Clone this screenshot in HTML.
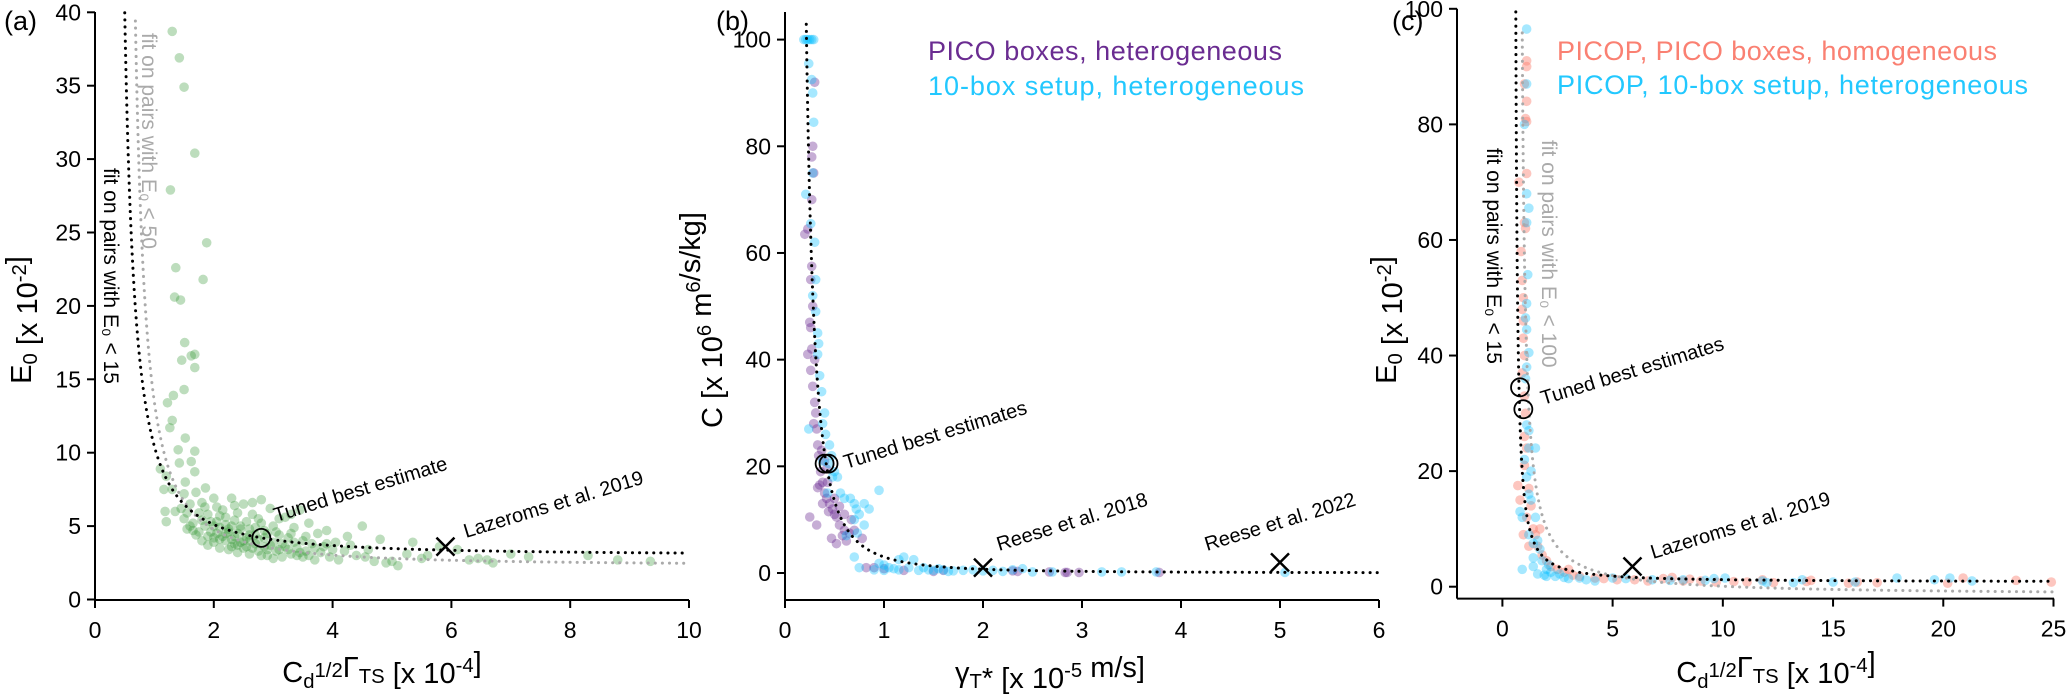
<!DOCTYPE html>
<html><head><meta charset="utf-8">
<style>
html,body{margin:0;padding:0;background:#fff;}
svg{display:block;font-family:"Liberation Sans",sans-serif;}
</style></head>
<body>
<svg id="fig" width="2067" height="694" viewBox="0 0 2067 694" xmlns="http://www.w3.org/2000/svg"></svg>
<script>
// ---------- Panel (a) data ----------
const aTicksX=[0,2,4,6,8,10];
const aTicksY=[0,5,10,15,20,25,30,35,40];
const aGreen=[[1.3,38.7],[1.42,36.9],[1.5,34.9],[1.68,30.4],[1.88,24.3],[1.27,27.9],[1.36,22.6],[1.82,21.8],[1.34,20.6],[1.44,20.4],[1.51,17.5],[1.62,16.6],[1.68,16.7],[1.46,16.3],[1.68,15.8],[1.5,14.3],[1.22,13.4],[1.32,13.9],[1.26,11.7],[1.3,12.2],[1.52,11.0],[1.68,10.1],[1.4,10.2],[1.42,9.3],[1.62,9.4],[1.1,8.9],[1.2,8.4],[1.68,8.7],[1.52,8.0],[1.3,7.5],[1.16,7.5],[1.86,7.6],[1.18,6.0],[1.2,5.3],[1.35,6.0],
[1.45,6.2],[1.5,5.5],[1.55,4.8],[1.6,6.5],[1.65,5.2],[1.7,4.4],[1.7,7.3],[1.75,5.9],[1.8,4.0],[1.8,6.6],[1.85,5.0],[1.9,3.7],[1.9,5.8],[1.95,4.6],[2.0,6.9],[2.0,4.2],[2.05,5.3],[2.1,3.5],[2.1,4.9],[2.15,6.1],[2.2,4.0],[2.2,5.6],[2.25,3.4],[2.25,4.6],[2.3,6.9],[2.3,5.0],[2.35,3.8],[2.35,4.3],[2.4,5.9],[2.4,3.2],[2.45,4.8],[2.5,4.0],[2.5,6.5],[2.55,3.6],[2.55,5.3],[2.6,4.4],[2.6,3.1],[2.65,5.8],[2.7,3.8],[2.7,4.9],[2.75,3.3],[2.8,6.8],[2.8,5.2],[2.85,3.6],[2.9,4.5],[2.9,3.0],[2.95,6.2],[3.0,3.9],[3.0,5.0],[3.05,3.3],[3.1,4.4],[3.15,2.9],[3.2,5.6],[3.2,3.6],[3.25,4.2],[3.3,3.1],[3.35,4.9],[3.4,3.5],[3.45,6.1],[3.5,2.9],[3.5,4.0],[3.55,3.3],[3.6,5.2],[3.65,3.8],[3.7,2.7],[3.75,4.5],[3.8,3.2],[3.85,3.6],[3.9,4.7],[3.95,2.9],[4.0,3.4],[4.05,3.9],[2.15,4.3],[2.35,5.4],[2.6,4.8],[2.45,3.9],[2.75,4.1],[2.05,4.5],[1.95,5.3],[2.85,4.7],[3.1,3.4],[2.3,3.6],[2.65,3.5],[1.6,5.0],[1.75,4.6],[2.0,3.9],[3.3,4.5],[3.4,3.0],[2.9,3.4],[2.55,4.2],[2.4,4.5],[2.2,5.1],[3.0,2.8],[3.6,3.0],[2.8,3.0],[2.1,5.7],[1.85,6.3],[1.5,7.2],[2.75,5.5],
[1.9,4.3],[2.0,5.0],[2.2,4.5],[2.3,4.1],[2.45,5.0],[2.5,3.5],[2.6,4.0],[2.7,4.4],[2.85,4.2],[2.95,3.7],[3.05,4.6],[3.15,3.8],[3.25,3.4],[3.35,3.9],[3.45,3.2],[3.55,4.3],[3.7,3.5],[3.9,3.8],[2.1,4.1],[2.25,4.8],[2.4,3.7],[1.8,5.4],[1.65,4.7],[1.55,5.9],[2.05,6.3],[2.35,6.4],[3.1,5.5],[3.3,5.8],[2.65,6.6],
[4.5,5.0],[4.8,4.1],[5.1,2.3],[5.35,3.9],[5.6,3.0],[5.8,3.6],[6.1,3.4],[6.3,2.7],[6.6,2.7],[6.7,2.5],[7.0,3.1],[7.3,2.9],[8.3,3.0],[8.8,2.7],[9.35,2.6],[6.45,2.8],[5.5,2.8],[5.0,2.6],[4.9,2.5],[4.7,2.6],[4.4,3.0],[4.2,3.3],[4.1,2.7],[4.3,3.7],[4.6,3.4],[4.25,4.3],[4.55,2.9],[5.25,3.1]];
const aBest=[[2.8,4.2]];
const aRef=[[5.9,3.6]];
// fit parameters: y = c + k/(x-x0)^p
const aFitBlack={c:3.0,k:4.92,x0:0.24,p:1.5,xmin:0.5};
const aFitGray={c:2.3,k:4.92,x0:0.42,p:1.5,xmin:0.68};

// ---------- Panel (b) data ----------
const bTicksX=[0,1,2,3,4,5,6];
const bTicksY=[0,20,40,60,80,100];
const bPurple=[[0.2,63.5],[0.23,64.5],[0.27,57.5],[0.26,55],[0.28,50],[0.25,47],[0.23,41],[0.27,42],[0.26,38],[0.3,40],[0.28,35],[0.3,32],[0.29,28],[0.32,27],[0.33,24],[0.34,22],[0.36,19],[0.38,17],[0.35,16.5],[0.33,16],[0.4,15],[0.42,14],[0.45,13],[0.48,12],[0.5,11],[0.52,10.5],[0.44,11.5],[0.55,9],[0.6,8],[0.58,7],[0.65,7.5],[0.7,8],[0.62,6],[0.52,5.5],[0.47,6.5],[0.25,10.5],[0.32,9],[0.78,6.5],[0.3,92],[0.28,80],[0.27,78],[0.29,75],[0.27,70],[0.82,1],[0.9,1],[1.0,0.8],[1.2,0.5],[1.5,0.3],[1.6,0.5],[2.3,0.4],[2.35,0.3],[2.67,0.2],[2.83,0.1],[2.85,0.1],[2.97,0.1],[3.78,0.1],[0.4,21],[0.42,19.5],[0.37,23],[0.31,30],[0.26,46],[0.55,12.5],[0.6,11],[0.67,10],[0.43,17],[0.38,13],[0.5,14]];
const bCyan=[[0.19,100],[0.21,100],[0.23,100],[0.25,100],[0.27,100],[0.29,100],[0.24,95.5],[0.27,92.5],[0.28,90],[0.29,84.5],[0.28,75],[0.21,71],[0.26,65.5],[0.3,62],[0.31,55],[0.28,52],[0.31,49],[0.33,45],[0.34,43],[0.33,41],[0.35,37],[0.37,34],[0.4,30],[0.38,28],[0.41,26],[0.24,27],[0.45,24],[0.47,22],[0.44,20.5],[0.5,19],[0.53,18],[0.56,15],[0.6,14],[0.66,14],[0.7,13],[0.72,12],[0.75,11],[0.8,13],[0.85,12],[0.95,15.5],[0.8,9],[0.7,10],[0.73,7.5],[0.62,7],[0.48,18],[0.43,15],[0.38,21],[0.7,3],[0.95,1.8],[1.0,0.5],[1.05,1],[1.1,0.8],[1.15,2.5],[1.2,3],[1.25,1],[1.3,2.5],[1.35,0.5],[1.45,0.6],[1.5,0.5],[1.6,0.6],[1.7,0.4],[1.8,0.5],[1.9,0.6],[2.0,0.4],[2.1,0.5],[2.2,0.3],[2.4,0.8],[2.5,0.2],[2.7,0.2],[3.2,0.2],[3.4,0.2],[3.75,0.2],[5.05,0.1],[0.75,1],[0.9,0.6],[1.0,1.5],[1.15,0.6],[1.4,1.0],[1.55,0.8],[1.65,0.3],[2.3,0.6]];
const bBest=[[0.4,20.5],[0.44,20.5]];
const bRef=[[2.0,1.0],[5.0,2.0]];
const bFitBlack={c:0,k:2.7,x0:0.053,p:2,xmin:0.215};

// ---------- Panel (c) data ----------
const cTicksX=[0,5,10,15,20,25];
const cTicksY=[0,20,40,60,80,100];
const cCoral=[[1.1,91],[1.1,90],[1.0,87],[1.1,84],[1.05,81],[1.1,80.5],[1.1,71.5],[0.75,70],[1.0,63],[1.05,62],[0.85,58],[0.9,53],[0.95,50],[0.9,48],[0.95,46],[0.95,43],[1.0,40],[0.9,37],[1.0,33],[1.05,30],[1.0,26],[1.1,24],[1.0,21],[0.7,17.5],[0.8,15],[1.2,17],[1.3,14],[1.1,12],[1.4,10],[1.5,9],[0.95,9],[1.6,7],[1.8,5.5],[2.0,4.5],[2.2,3.5],[2.5,3],[2.8,2.5],[3.2,2],[3.5,1.8],[4.2,1.5],[4.6,1.4],[5.2,1.2],[6.0,1.2],[6.6,1.0],[7.3,1.4],[7.7,1.6],[8.2,1.0],[8.5,1.3],[9.0,1.0],[9.7,0.8],[10.5,0.9],[11.1,0.8],[11.8,1.2],[12.3,0.7],[13.8,0.9],[14.0,1.1],[15.7,0.6],[16.1,0.8],[17.0,0.7],[20.2,0.6],[20.9,1.5],[23.3,1.1],[24.9,0.8],[1.2,7],[1.7,10],[3.0,3]];
const cCyan=[[1.1,96.5],[1.1,87],[1.0,80],[1.1,68],[1.2,65.5],[1.1,63],[1.15,54],[1.1,49],[1.05,46.5],[1.1,44.5],[1.2,40.5],[1.1,38],[1.05,36],[1.1,28],[1.2,24],[1.5,24],[1.0,22],[1.1,19],[1.2,16],[1.3,15],[1.5,12],[1.6,8],[0.8,13],[0.9,12],[1.2,9],[1.7,6.5],[1.4,5],[1.8,4.5],[2.0,3],[1.9,2.0],[2.2,2.5],[2.4,1.8],[2.6,2.2],[2.8,1.6],[3.0,1.4],[3.5,1.5],[3.8,1.2],[4.2,1.0],[0.9,3],[1.4,3.5],[1.6,2.2],[2.0,1.8],[5.0,1.5],[5.6,1.4],[6.8,1.2],[7.6,1.1],[8.2,1.2],[9.2,1.1],[9.6,1.4],[10.1,1.5],[11.8,1.0],[12.0,0.7],[13.2,0.7],[13.6,1.2],[15.0,0.8],[16.0,0.8],[17.9,1.5],[19.6,1.2],[20.3,1.5],[21.3,1.0],[1.3,20],[1.2,27],[1.4,7.5],[2.1,3.8]];
const cBest=[[0.8,34.5],[0.95,30.7]];
const cRef=[[5.9,3.5]];
const cFitBlack={c:0.8,k:6.24,x0:0.508,p:1.2,xmin:0.6};
const cFitGray={c:-1.5,k:14.6,x0:0.75,p:1,xmin:0.9};

// ---------- helpers ----------
const NS="http://www.w3.org/2000/svg";
const svg=document.getElementById('fig');
function mk(tag,attrs,parent){const e=document.createElementNS(NS,tag);for(const k in attrs)e.setAttribute(k,attrs[k]);(parent||svg).appendChild(e);return e;}
function scale(d0,d1,r0,r1){return v=>r0+(v-d0)*(r1-r0)/(d1-d0);}

function axes(g,P,ticksX,ticksY){
  const sl=mk('line',{x1:P.L,y1:P.T,x2:P.L,y2:P.B,stroke:'#000','stroke-width':2},g);
  
  
  const sb=mk('line',{x1:P.L,y1:P.B,x2:P.R,y2:P.B,stroke:'#000','stroke-width':2},g);
  
  
  ticksX.forEach(t=>{
    const x=P.sx(t);
    mk('line',{x1:x,y1:P.B,x2:x,y2:P.B+8,stroke:'#000','stroke-width':2},g);
    const tx=mk('text',{x:x,y:P.B+38,'text-anchor':'middle','font-size':23},g);
    tx.textContent=t;
    
    
  });
  ticksY.forEach(t=>{
    const y=P.sy(t);
    mk('line',{x1:P.L-8,y1:y,x2:P.L,y2:y,stroke:'#000','stroke-width':2},g);
    const ty=mk('text',{x:P.L-14,y:y+8,'text-anchor':'end','font-size':23},g);
    ty.textContent=t;
    
    
  });
}
function dots(g,pts,P,fill,name){
  pts.forEach(p=>{
    const c=mk('circle',{cx:P.sx(p[0]),cy:P.sy(p[1]),r:4.8,fill:fill},g);
    
    
  });
}
function fit(g,F,P,xmax,color,name){
  let d='';let first=true;
  for(let i=0;i<=600;i++){
    const x=F.xmin+(xmax-F.xmin)*Math.pow(i/600,2);
    let y=F.c+F.k/Math.pow(x-F.x0,F.p);
    if(y>P.ymax) continue;
    d+=(first?'M':'L')+P.sx(x).toFixed(2)+','+P.sy(y).toFixed(2);first=false;
  }
  const p=mk('path',{d:d,fill:'none',stroke:color,'stroke-width':3,'stroke-dasharray':'0.1 7','stroke-linecap':'round'},g);
  
  
}
function bestCircles(g,pts,P){
  pts.forEach(p=>{
    const c=mk('circle',{cx:P.sx(p[0]),cy:P.sy(p[1]),r:9,fill:'none',stroke:'#000','stroke-width':1.8},g);
    
    
  });
}
function crosses(g,pts,P){
  pts.forEach(p=>{
    const x=P.sx(p[0]),y=P.sy(p[1]),s=9;
    const e=mk('path',{d:`M${x-s},${y-s}L${x+s},${y+s}M${x-s},${y+s}L${x+s},${y-s}`,stroke:'#000','stroke-width':2.5,fill:'none'},g);
    
    
  });
}
function label(g,html,x,y,size,rot,color,name,anchor){
  const t=mk('text',{x:x,y:y,'font-size':size,fill:color||'#000','text-anchor':anchor||'start',transform:rot?`rotate(${rot} ${x} ${y})`:''},g);
  t.innerHTML=html;
  
  
  return t;
}
const sub=s=>`<tspan font-size="70%" dy="6">${s}</tspan><tspan dy="-6"></tspan>`;
const sup=s=>`<tspan font-size="70%" dy="-11">${s}</tspan><tspan dy="11"></tspan>`;

// ---------- Panel (a) ----------
{
  const g=mk('g',{});
  
  
  const P={L:95,R:689,T:12,B:600,ymax:40};
  P.sx=scale(0,10,95,689);P.sy=scale(0,40,599.5,12.3);
  dots(g,aGreen,P,'rgba(50,150,50,0.32)','green-point');
  fit(g,aFitGray,P,10,'#aaa','fit-line-e0-below-50');
  fit(g,aFitBlack,P,10,'#000','fit-line-e0-below-15');
  bestCircles(g,aBest,P);crosses(g,aRef,P);
  axes(g,P,aTicksX,aTicksY);
  label(g,'(a)',4,30,27,0,'#000','panel-label-a');
  label(g,'E'+sub('0')+' [x 10'+sup('-2')+']',31,320,29,-90,'#000','y-axis-title','middle');
  label(g,'C'+sub('d')+sup('1/2')+'Γ'+sub('TS')+' [x 10'+sup('-4')+']',382,682,29,0,'#000','x-axis-title','middle');
  label(g,'fit on pairs with E₀ &lt; 15',104,168,21,90,'#000','fit-label-black');
  label(g,'fit on pairs with E₀ &lt; 50',142,33,21,90,'#aaa','fit-label-gray');
  label(g,'Tuned best estimate',276,522,20,-17,'#000','annotation-tuned-best-estimate');
  label(g,'Lazeroms et al. 2019',466,538,20,-17,'#000','annotation-lazeroms-2019');
}
// ---------- Panel (b) ----------
{
  const g=mk('g',{});
  
  
  const P={L:785,R:1379,T:12,B:600,ymax:105};
  P.sx=scale(0,6,785,1379);P.sy=scale(0,100,573,39.6);
  dots(g,bPurple,P,'rgba(105,40,145,0.38)','pico-boxes-point');
  dots(g,bCyan,P,'rgba(0,190,255,0.35)','ten-box-point');
  fit(g,bFitBlack,P,6,'#000','fit-line');
  bestCircles(g,bBest,P);crosses(g,bRef,P);
  axes(g,P,bTicksX,bTicksY);
  label(g,'(b)',716,30,27,0,'#000','panel-label-b');
  label(g,'C [x 10'+sup('6')+' m'+sup('6')+'/s/kg]',722,320,29,-90,'#000','y-axis-title','middle');
  label(g,'γ'+sub('T')+'* [x 10'+sup('-5')+' m/s]',1050,682,29,0,'#000','x-axis-title','middle');
  const l1=label(g,'PICO boxes, heterogeneous',928,60,27,0,'#6a2c91','legend-entry-pico-boxes');l1.setAttribute('textLength',354);
  const l2=label(g,'10-box setup, heterogeneous',928,95,27,0,'#22c8ff','legend-entry-10-box');l2.setAttribute('textLength',376);
  label(g,'Tuned best estimates',846,469,20,-17,'#000','annotation-tuned-best-estimates');
  label(g,'Reese et al. 2018',999,551,20,-17,'#000','annotation-reese-2018');
  label(g,'Reese et al. 2022',1207,551,20,-17,'#000','annotation-reese-2022');
}
// ---------- Panel (c) ----------
{
  const g=mk('g',{});
  
  
  const P={L:1457,R:2054,T:8.8,B:598.6,ymax:100};
  P.sx=scale(0,25,1502.4,2053.5);P.sy=scale(0,100,586.7,8.8);
  dots(g,cCoral,P,'rgba(250,128,114,0.45)','picop-pico-boxes-point');
  dots(g,cCyan,P,'rgba(0,190,255,0.35)','picop-10-box-point');
  fit(g,cFitGray,P,25,'#aaa','fit-line-e0-below-100');
  fit(g,cFitBlack,P,25,'#000','fit-line-e0-below-15');
  bestCircles(g,cBest,P);crosses(g,cRef,P);
  axes(g,P,cTicksX,cTicksY);
  label(g,'(c)',1392,30,27,0,'#000','panel-label-c');
  label(g,'E'+sub('0')+' [x 10'+sup('-2')+']',1396,320,29,-90,'#000','y-axis-title','middle');
  label(g,'C'+sub('d')+sup('1/2')+'Γ'+sub('TS')+' [x 10'+sup('-4')+']',1776,682,29,0,'#000','x-axis-title','middle');
  const l1=label(g,'PICOP, PICO boxes, homogeneous',1557,60,27,0,'#fa8072','legend-entry-picop-pico-boxes');l1.setAttribute('textLength',440);
  const l2=label(g,'PICOP, 10-box setup, heterogeneous',1557,94,27,0,'#22c8ff','legend-entry-picop-10-box');l2.setAttribute('textLength',471);
  label(g,'fit on pairs with E₀ &lt; 15',1487,148,21,90,'#000','fit-label-black');
  label(g,'fit on pairs with E₀ &lt; 100',1542,140,21,90,'#aaa','fit-label-gray');
  label(g,'Tuned best estimates',1543,405,20,-17,'#000','annotation-tuned-best-estimates');
  label(g,'Lazeroms et al. 2019',1653,559,20,-17,'#000','annotation-lazeroms-2019');
}
</script>
</body></html>
